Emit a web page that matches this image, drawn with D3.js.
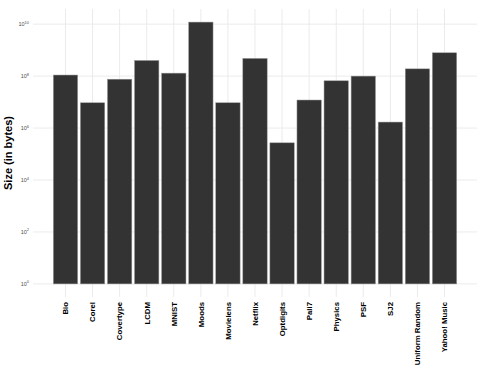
<!DOCTYPE html>
<html lang="en">
<head>
<meta charset="utf-8">
<title>dataset sizes</title>
<script src="https://cdn.jsdelivr.net/npm/d3@7"></script>
<style>
  body { margin: 0; background: #fff; }
  text { font-family: "Liberation Sans", Arial, sans-serif; }
</style>
</head>
<body>
<script>
// chart size
var w = 491, h = 374;

// data
var datasets = ["Bio", "Corel", "Covertype", "LCDM", "MNIST", "Moods", "Movielens", "Netflix",
                "Optdigits", "Pali7", "Physics", "PSF", "SJ2", "Uniform Random", "Yahoo! Music"];
var sizes = [1.1e8, 9.4e6, 7.6e7, 4.0e8, 1.3e8, 1.2e10, 9.4e6, 4.8e8,
             2.7e5, 1.2e7, 6.6e7, 1.0e8, 1.7e6, 1.9e8, 7.9e8];
var yTicks = [0, 2, 4, 6, 8, 10];   // exponents

// panel (note: "top" is taken by window.top)
var pLeft = 33, pRight = 477, pTop = 9, pBottom = 297;

var svg = d3.select("body").append("svg")
    .attr("width", w)
    .attr("height", h);

var xScale = d3.scalePoint()
    .domain(datasets)
    .range([pLeft, pRight])
    .padding(1.2);

// ggplot style 5% expansion in log space, bars start at 10^0
var maxLog = Math.log10(d3.max(sizes));
var pad = maxLog * 0.05;
var yScale = d3.scaleLog()
    .domain([Math.pow(10, -pad), Math.pow(10, maxLog + pad)])
    .range([pBottom, pTop]);

// grid
svg.append("g").selectAll("line")
    .data(yTicks)
    .enter().append("line")
    .attr("x1", pLeft).attr("x2", pRight)
    .attr("y1", function(d) { return yScale(Math.pow(10, d)); })
    .attr("y2", function(d) { return yScale(Math.pow(10, d)); })
    .attr("stroke", "#ebebeb")
    .attr("stroke-width", 1);

svg.append("g").selectAll("line")
    .data(datasets)
    .enter().append("line")
    .attr("x1", function(d) { return xScale(d); })
    .attr("x2", function(d) { return xScale(d); })
    .attr("y1", pTop).attr("y2", pBottom)
    .attr("stroke", "#ebebeb")
    .attr("stroke-width", 1);

// bars
var bw = xScale.step() * 0.9;
svg.append("g").selectAll("rect")
    .data(datasets)
    .enter().append("rect")
    .attr("x", function(d) { return xScale(d) - bw / 2; })
    .attr("width", bw)
    .attr("y", function(d, i) { return yScale(sizes[i]); })
    .attr("height", function(d, i) { return yScale(1) - yScale(sizes[i]); })
    .attr("fill", "#333333")
    .attr("stroke", "#9a9a9a")
    .attr("stroke-width", 0.5);

// y tick labels, 10^n
var yl = svg.append("g").selectAll("text")
    .data(yTicks)
    .enter().append("text")
    .attr("x", 29)
    .attr("y", function(d) { return yScale(Math.pow(10, d)) + 2; })
    .attr("text-anchor", "end")
    .attr("fill", "#4d4d4d")
    .style("font-size", "5.5px");
yl.append("tspan").text("10");
yl.append("tspan")
    .attr("dy", -2.5)
    .style("font-size", "4px")
    .text(function(d) { return d; });

// x tick labels
svg.append("g").selectAll("text")
    .data(datasets)
    .enter().append("text")
    .attr("transform", function(d) { return "translate(" + (xScale(d) + 2.8) + "," + 302 + ") rotate(-90)"; })
    .attr("text-anchor", "end")
    .attr("fill", "#000")
    .style("font-size", "7.8px")
    .style("font-weight", "bold")
    .text(function(d) { return d; });

// y axis title
svg.append("text")
    .attr("transform", "translate(12," + ((pTop + pBottom) / 2) + ") rotate(-90)")
    .attr("text-anchor", "middle")
    .attr("fill", "#000")
    .style("font-size", "11px")
    .style("font-weight", "bold")
    .text("Size (in bytes)");
</script>
</body>
</html>
